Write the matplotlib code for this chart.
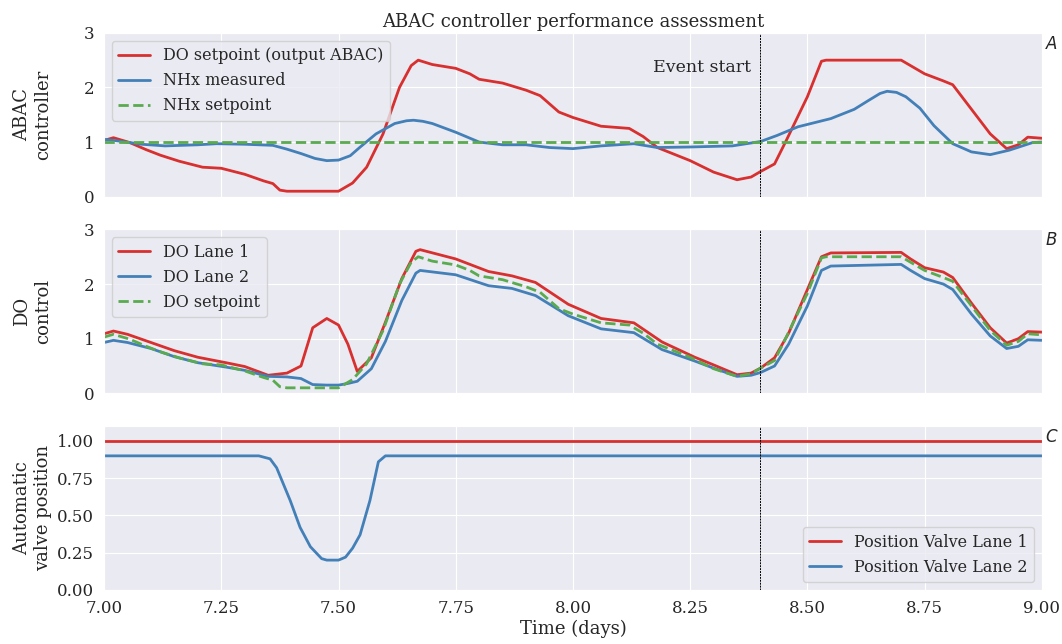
import numpy as np
import matplotlib
matplotlib.use('Agg')
import matplotlib.pyplot as plt
import seaborn as sns

sns.set_style('darkgrid')
plt.rcParams['font.family'] = ['DejaVu Serif']
plt.rcParams['font.size'] = 12

red = '#d7302f'
blue = '#4480b8'
green = '#5aaa4f'

event_t = 8.40

# panel A: DO setpoint produced by the ABAC controller
sp_t = [7.00, 7.02, 7.055, 7.09, 7.12, 7.16, 7.21, 7.25, 7.30, 7.34, 7.36, 7.375, 7.39,
        7.50, 7.53, 7.56, 7.595, 7.63, 7.655, 7.67, 7.70, 7.75, 7.78, 7.80, 7.85, 7.90,
        7.93, 7.97, 8.00, 8.06, 8.12, 8.15, 8.18, 8.25, 8.30, 8.35, 8.38, 8.40, 8.43,
        8.455, 8.50, 8.53, 8.54, 8.70, 8.72, 8.75, 8.79, 8.81, 8.85, 8.89, 8.925, 8.95,
        8.97, 9.00]
sp_v = [1.03, 1.08, 0.99, 0.86, 0.76, 0.65, 0.54, 0.52, 0.41, 0.29, 0.24, 0.12, 0.10,
        0.10, 0.25, 0.54, 1.15, 2.00, 2.40, 2.50, 2.42, 2.35, 2.25, 2.15, 2.08, 1.95,
        1.85, 1.55, 1.45, 1.29, 1.25, 1.10, 0.90, 0.66, 0.45, 0.31, 0.36, 0.46, 0.60,
        1.03, 1.83, 2.48, 2.50, 2.50, 2.40, 2.25, 2.12, 2.05, 1.60, 1.15, 0.88, 0.95,
        1.09, 1.07]

nh_t = [7.00, 7.03, 7.08, 7.13, 7.20, 7.24, 7.30, 7.36, 7.39, 7.42, 7.45, 7.475, 7.50,
        7.525, 7.545, 7.58, 7.62, 7.645, 7.66, 7.68, 7.70, 7.75, 7.80, 7.85, 7.90, 7.95,
        8.00, 8.06, 8.13, 8.18, 8.25, 8.34, 8.40, 8.435, 8.48, 8.55, 8.60, 8.63, 8.655,
        8.67, 8.69, 8.71, 8.74, 8.77, 8.81, 8.85, 8.89, 8.93, 8.98, 9.00]
nh_v = [1.05, 1.02, 0.96, 0.93, 0.95, 0.97, 0.96, 0.94, 0.87, 0.79, 0.70, 0.66, 0.67,
        0.75, 0.90, 1.15, 1.34, 1.39, 1.40, 1.38, 1.34, 1.18, 1.00, 0.95, 0.95, 0.90,
        0.88, 0.93, 0.97, 0.90, 0.91, 0.93, 1.01, 1.12, 1.28, 1.43, 1.60, 1.76, 1.89,
        1.93, 1.91, 1.83, 1.62, 1.30, 0.97, 0.82, 0.77, 0.85, 0.99, 1.00]

nh_sp_t = [7.0, 9.0]
nh_sp_v = [1.0, 1.0]

# panel B: dissolved oxygen in both lanes
do_t = [7.00, 7.02, 7.05, 7.10, 7.15, 7.20, 7.26, 7.30, 7.35, 7.39, 7.42, 7.445, 7.475,
        7.50, 7.52, 7.54, 7.57, 7.60, 7.635, 7.665, 7.674, 7.75, 7.82, 7.87, 7.92, 7.99,
        8.06, 8.13, 8.19, 8.26, 8.30, 8.35, 8.38, 8.40, 8.43, 8.46, 8.50, 8.53, 8.55,
        8.70, 8.72, 8.75, 8.79, 8.81, 8.85, 8.89, 8.925, 8.95, 8.97, 9.00]
do_lane1 = [1.09, 1.14, 1.08, 0.93, 0.78, 0.66, 0.56, 0.49, 0.33, 0.37, 0.50, 1.20, 1.37,
            1.25, 0.90, 0.40, 0.65, 1.30, 2.10, 2.60, 2.63, 2.46, 2.23, 2.15, 2.03, 1.63,
            1.37, 1.29, 0.94, 0.66, 0.52, 0.34, 0.37, 0.46, 0.65, 1.10, 1.90, 2.50, 2.57,
            2.58, 2.46, 2.30, 2.22, 2.12, 1.65, 1.20, 0.92, 1.00, 1.13, 1.12]
do_lane2 = [0.93, 0.97, 0.93, 0.82, 0.67, 0.56, 0.48, 0.42, 0.31, 0.30, 0.27, 0.16, 0.15,
            0.15, 0.18, 0.22, 0.45, 0.95, 1.70, 2.20, 2.25, 2.17, 1.97, 1.92, 1.79, 1.42,
            1.18, 1.11, 0.80, 0.59, 0.46, 0.31, 0.33, 0.38, 0.50, 0.90, 1.60, 2.25, 2.33,
            2.36, 2.25, 2.10, 2.00, 1.90, 1.45, 1.05, 0.82, 0.86, 0.98, 0.97]

# panel C: automatic valve positions
v1_t = [7.0, 9.0]
v1_v = [1.0, 1.0]
v2_t = [7.00, 7.33, 7.354, 7.368, 7.397, 7.418, 7.44, 7.464, 7.475, 7.50, 7.515, 7.53,
        7.546, 7.567, 7.585, 7.60, 9.00]
v2_v = [0.90, 0.90, 0.88, 0.82, 0.60, 0.42, 0.29, 0.21, 0.20, 0.20, 0.22, 0.28,
        0.37, 0.60, 0.86, 0.90, 0.90]

fig, (ax1, ax2, ax3) = plt.subplots(3, 1, sharex=True, figsize=(10.62, 6.44), dpi=100)
fig.subplots_adjust(left=0.098, right=0.981, top=0.949, bottom=0.084, hspace=0.2)

lw = 2
leg_fs = 11.5
lab_fs = 13
ax1.plot(sp_t, sp_v, color=red, lw=lw, label='DO setpoint (output ABAC)')
ax1.plot(nh_t, nh_v, color=blue, lw=lw, label='NHx measured')
ax1.plot(nh_sp_t, nh_sp_v, color=green, lw=lw, ls='--', label='NHx setpoint')
ax1.set_ylim(0, 3)
ax1.set_yticks([0, 1, 2, 3])
ax1.set_ylabel('ABAC\ncontroller', fontsize=lab_fs)
ax1.set_title('ABAC controller performance assessment', fontsize=13, pad=4)
ax1.legend(loc='upper left', fontsize=leg_fs)
ax1.text(8.38, 2.36, 'Event start', ha='right', va='center', fontsize=12.5)

ax2.plot(do_t, do_lane1, color=red, lw=lw, label='DO Lane 1')
ax2.plot(do_t, do_lane2, color=blue, lw=lw, label='DO Lane 2')
ax2.plot(sp_t, sp_v, color=green, lw=lw, ls='--', label='DO setpoint')
ax2.set_ylim(0, 3)
ax2.set_yticks([0, 1, 2, 3])
ax2.set_ylabel('DO\ncontrol', fontsize=lab_fs)
ax2.legend(loc='upper left', fontsize=leg_fs)

ax3.plot(v1_t, v1_v, color=red, lw=lw, label='Position Valve Lane 1')
ax3.plot(v2_t, v2_v, color=blue, lw=lw, label='Position Valve Lane 2')
ax3.set_ylim(0, 1.1)
ax3.set_yticks([0, 0.25, 0.5, 0.75, 1.0])
ax3.yaxis.set_major_formatter(matplotlib.ticker.FormatStrFormatter('%.2f'))
ax3.set_ylabel('Automatic\nvalve position', fontsize=lab_fs)
ax3.legend(loc='lower right', fontsize=leg_fs)
ax3.set_xlim(7, 9)
ax3.set_xticks([7.0, 7.25, 7.5, 7.75, 8.0, 8.25, 8.5, 8.75, 9.0])
ax3.xaxis.set_major_formatter(matplotlib.ticker.FormatStrFormatter('%.2f'))
ax3.set_xlabel('Time (days)', fontsize=lab_fs, labelpad=2)

for ax, letter in zip((ax1, ax2, ax3), 'ABC'):
    ax.axvline(event_t, color='k', ls=(0, (2, 1)), lw=0.7)
    ax.text(1.003, 0.93, '$' + letter + '$', transform=ax.transAxes, fontsize=12,
            ha='left', va='center')
    ax.tick_params(labelsize=12)

fig.align_ylabels((ax1, ax2, ax3))
fig.savefig('out.png', dpi=100)
